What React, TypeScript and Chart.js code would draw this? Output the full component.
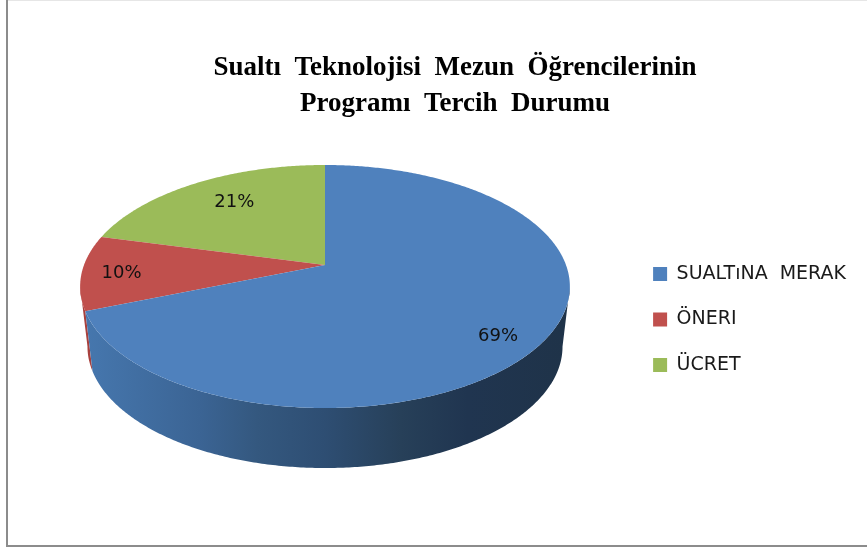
import React, { useEffect, useRef } from "react";
import { Chart, registerables } from "chart.js";

Chart.register(...registerables);

const categories = ["SUALTıNA  MERAK", "ÖNERI", "ÜCRET"];
const shares = [69, 10, 21];
const faceColors = ["#4F81BD", "#C0504D", "#9BBB59"];
const titleLines = ["Sualtı  Teknolojisi  Mezun  Öğrencilerinin", "Programı  Tercih  Durumu"];
const labelReach = [0.85, 0.85, 0.72];
const labelNudgeX = [-12, 3, 6];
const labelNudgeY = [10, 2, -2];

const view = { cx: 325, apexY: 265, rx: 241, ry: 117.7, tilt: 0.177, depth: 60, shrink: 0.97 };

function project(theta: number, reach = 1) {
  const c = Math.cos(theta) * reach;
  const s = Math.sin(theta) * reach;
  const w = 1 - view.tilt * s;
  return { x: view.cx + (view.rx * c) / w, y: view.apexY + (view.ry * s) / w };
}

function lowered(p: { x: number; y: number }) {
  return {
    x: view.cx + (p.x - view.cx) * view.shrink,
    y: p.y + view.depth,
  };
}

function sweep(a: number, b: number) {
  const pts: number[] = [];
  const n = Math.max(2, Math.ceil(Math.abs(b - a) / 0.01));
  for (let i = 0; i <= n; i++) pts.push(a + ((b - a) * i) / n);
  return pts;
}

const pie3d = {
  id: "pie3d",
  beforeDraw(chart: any) {
    const ctx = chart.ctx;
    ctx.save();
    ctx.fillStyle = "#ffffff";
    ctx.fillRect(0, 0, chart.width, chart.height);
    ctx.fillStyle = "#e6e6e6";
    ctx.fillRect(7, 0, chart.width - 7, 1);
    ctx.fillStyle = "#8c8c8c";
    ctx.fillRect(6, 0, 2, 547);
    ctx.fillRect(6, 545, chart.width - 6, 2);
    ctx.restore();
  },
  beforeDatasetsDraw(chart: any) {
    const ctx = chart.ctx;
    const arcs = chart.getDatasetMeta(0).data;
    const edge = Math.asin(view.tilt);
    const frontFrom = edge;
    const frontTo = Math.PI - edge;

    const blueSide = ctx.createLinearGradient(85, 0, 563, 0);
    blueSide.addColorStop(0, "#4677AE");
    blueSide.addColorStop(0.24, "#3B6494");
    blueSide.addColorStop(0.36, "#34587F");
    blueSide.addColorStop(0.5, "#2E4E73");
    blueSide.addColorStop(0.66, "#274059");
    blueSide.addColorStop(0.8, "#203550");
    blueSide.addColorStop(1, "#1F3349");
    const sideFills = [blueSide, "#A8403D", "#7E9A47"];

    [1, 0].forEach((i) => {
      const arc = arcs[i];
      const a = Math.max(arc.startAngle, frontFrom);
      const b = Math.min(arc.endAngle, frontTo);
      if (b <= a) return;
      const top = sweep(a, b).map((t) => project(t));
      ctx.beginPath();
      top.forEach((p, k) => (k ? ctx.lineTo(p.x, p.y) : ctx.moveTo(p.x, p.y)));
      [...top].reverse().forEach((p) => {
        const q = lowered(p);
        ctx.lineTo(q.x, q.y);
      });
      ctx.closePath();
      ctx.fillStyle = sideFills[i];
      ctx.fill();
    });

    [2, 1, 0].forEach((i) => {
      const arc = arcs[i];
      ctx.beginPath();
      ctx.moveTo(view.cx, view.apexY);
      sweep(arc.startAngle, arc.endAngle).forEach((t) => {
        const p = project(t);
        ctx.lineTo(p.x, p.y);
      });
      ctx.closePath();
      ctx.fillStyle = arc.options.backgroundColor;
      ctx.fill();
    });

    ctx.font = "18px 'DejaVu Sans'";
    ctx.fillStyle = "#111111";
    ctx.textAlign = "center";
    ctx.textBaseline = "middle";
    arcs.forEach((arc: any, i: number) => {
      const mid = (arc.startAngle + arc.endAngle) / 2;
      const p = project(mid, labelReach[i]);
      ctx.fillText(shares[i] + "%", p.x + labelNudgeX[i], p.y + labelNudgeY[i]);
    });
    return false;
  },
};

export default function App() {
  const ref = useRef<HTMLCanvasElement>(null);
  useEffect(() => {
    document.body.style.margin = "0";
    const chart = new Chart(ref.current as HTMLCanvasElement, {
      type: "pie",
      data: {
        labels: categories,
        datasets: [{ data: shares, backgroundColor: faceColors, borderWidth: 0 }],
      },
      options: {
        responsive: false,
        animation: false,
        layout: { padding: { left: 54, right: 11, top: 0, bottom: 53 } },
        plugins: {
          tooltip: { enabled: false },
          title: {
            display: true,
            text: titleLines,
            color: "#000000",
            font: { family: "'Liberation Serif'", weight: "bold", size: 27, lineHeight: 1.33 },
            padding: { top: 50, bottom: 20 },
          },
          legend: {
            position: "right",
            fullSize: false,
            labels: {
              boxWidth: 14,
              boxHeight: 14,
              padding: 26.5,
              color: "#1a1a1a",
              font: { family: "'DejaVu Sans'", size: 19 },
            },
          },
        },
      },
      plugins: [pie3d],
    } as any);
    return () => chart.destroy();
  }, []);
  return <canvas ref={ref} width={867} height={550} style={{ display: "block" }} />;
}
